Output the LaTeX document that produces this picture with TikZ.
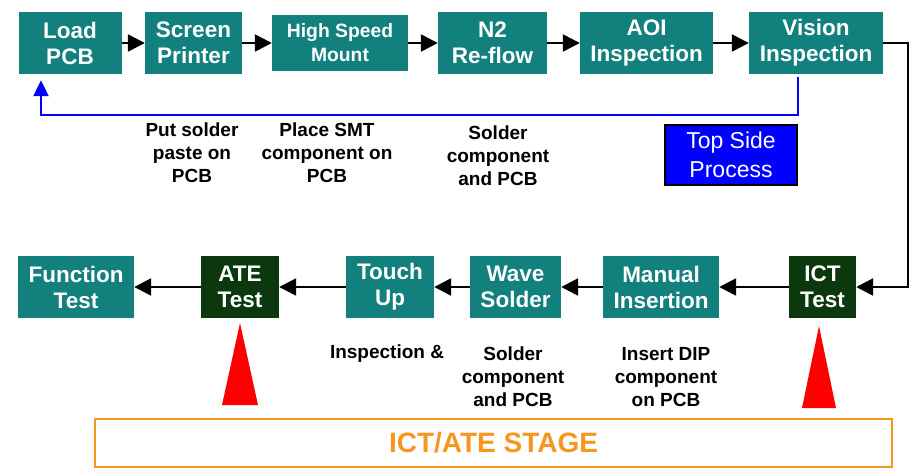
\documentclass[tikz,border=0pt]{standalone}
\usepackage{fontspec}
\setmainfont{Liberation Sans}
\usetikzlibrary{arrows.meta,positioning}

\definecolor{tealbox}{RGB}{18,128,124}
\definecolor{darkbox}{RGB}{12,56,14}
\definecolor{stageorange}{RGB}{247,150,30}

\tikzset{
  procbox/.style={fill=tealbox, text=white, align=center, inner sep=0pt,
    minimum height=62pt, font=\bfseries\fontsize{22.5}{26}\selectfont},
  testbox/.style={procbox, fill=darkbox},
  note/.style={align=center, font=\bfseries\fontsize{19}{23}\selectfont},
  flow/.style={line width=2.5pt, -{Triangle[length=17pt,width=17pt]}},
  feedback/.style={line width=2.2pt, blue, -{Triangle[length=16pt,width=15pt]}}
}

\begin{document}
\begin{tikzpicture}[x=1pt,y=-1pt]
\useasboundingbox (0,0) rectangle (918,474);

% top side line
\node[procbox, minimum width=103pt] (load) at (70,43) {Load\\PCB};
\node[procbox, minimum width=97pt] (screen) at (193.5,43) {Screen\\Printer};
\node[procbox, minimum width=136pt, minimum height=56pt,
  font=\bfseries\fontsize{19.3}{24}\selectfont] (mount) at (340,43) {High Speed\\Mount};
\node[procbox, minimum width=109pt] (reflow) at (492.5,43) {N2\\Re-flow};
\node[procbox, minimum width=133pt] (aoi) at (646.5,43) {AOI\\Inspection};
\node[procbox, minimum width=134pt] (vision) at (816,43) {Vision\\Inspection};

\draw[flow] (load) -- (screen);
\draw[flow] (screen) -- (mount);
\draw[flow] (mount) -- (reflow);
\draw[flow] (reflow) -- (aoi);
\draw[flow] (aoi) -- (vision);

% back to load
\draw[feedback, shorten <=3pt, shorten >=6pt] ([xshift=-18pt]vision.south)
  |- ([xshift=-29pt,yshift=-41pt]load.south) -- ([xshift=-29pt]load.south);

\node[note] (paste) at (192,153) {Put solder\\paste on\\PCB};
\node[note] (smt) at (327,153) {Place SMT\\component on\\PCB};
\node[note] (soldtop) at (498,156) {Solder\\component\\and PCB};

\node[draw=black, line width=1.5pt, fill=blue, text=white, align=center,
  minimum width=132pt, minimum height=60pt, inner sep=0pt,
  font=\fontsize{23}{29}\selectfont] (topside) at (731,155) {Top Side\\Process};

% bottom line
\node[procbox, minimum width=116pt] (func) at (76,287) {Function\\Test};
\node[testbox, minimum width=78pt] (ate) at (240,287) {ATE\\Test};
\node[procbox, minimum width=88pt] (touch) at (390,287) {Touch\\Up};
\node[procbox, minimum width=91pt] (wave) at (515.5,287) {Wave\\Solder};
\node[procbox, minimum width=116pt] (manual) at (661,287) {Manual\\Insertion};
\node[testbox, minimum width=67pt] (ict) at (822.5,287) {ICT\\Test};

\draw[flow] (vision.east) -- ++(25pt,0) |- (ict.east);
\draw[flow] (ict) -- (manual);
\draw[flow] (manual) -- (wave);
\draw[flow] (wave) -- (touch);
\draw[flow] (touch) -- (ate);
\draw[flow] (ate) -- (func);

\node[note] (insp) at (387,354) {Inspection \&};
\node[note] (soldbot) at (513,377) {Solder\\component\\and PCB};
\node[note] (dip) at (666,377) {Insert DIP\\component\\on PCB};

% markers
\fill[red] (240,323) -- (258,405) -- (222,405) -- cycle;
\fill[red] (819,326) -- (836,408) -- (802,408) -- cycle;

\node[draw=stageorange, line width=2.5pt, text=stageorange, inner sep=0pt,
  minimum width=797pt, minimum height=48pt,
  font=\bfseries\fontsize{28}{32}\selectfont] (stage) at (493.5,443) {ICT/ATE STAGE};

\end{tikzpicture}
\end{document}
